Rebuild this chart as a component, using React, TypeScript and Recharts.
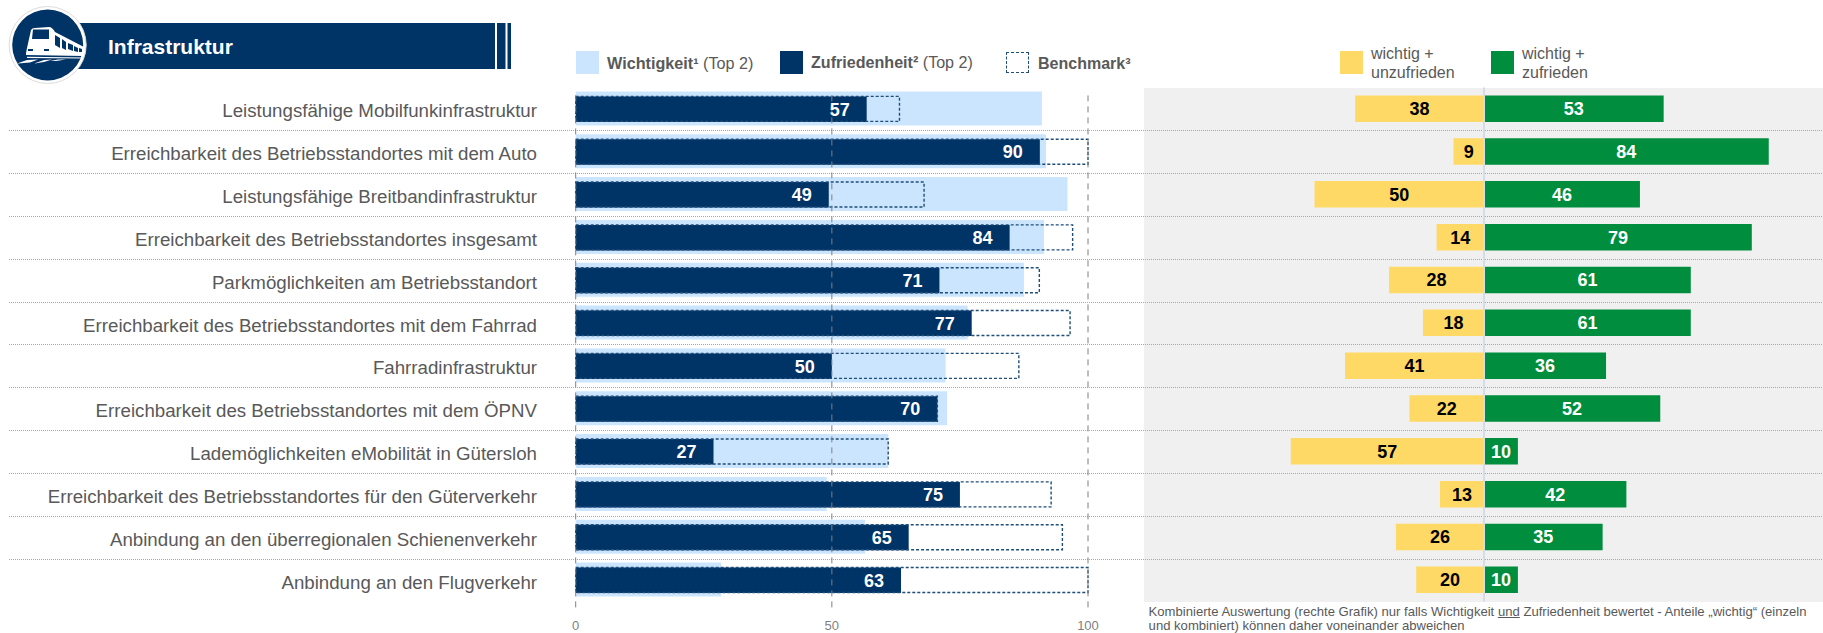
import { Bar, BarChart, LabelList, ReferenceLine, XAxis, YAxis } from "recharts";

const categories = [
  "Leistungsfähige Mobilfunkinfrastruktur",
  "Erreichbarkeit des Betriebsstandortes mit dem Auto",
  "Leistungsfähige Breitbandinfrastruktur",
  "Erreichbarkeit des Betriebsstandortes insgesamt",
  "Parkmöglichkeiten am Betriebsstandort",
  "Erreichbarkeit des Betriebsstandortes mit dem Fahrrad",
  "Fahrradinfrastruktur",
  "Erreichbarkeit des Betriebsstandortes mit dem ÖPNV",
  "Lademöglichkeiten eMobilität in Gütersloh",
  "Erreichbarkeit des Betriebsstandortes für den Güterverkehr",
  "Anbindung an den überregionalen Schienenverkehr",
  "Anbindung an den Flugverkehr",
];
const wichtigkeit = [91, 91.8, 96, 91.4, 87.5, 76.5, 72.2, 72.5, 61, 49, 56.5, 28.4];
// bar lengths as measured; the printed labels are whole numbers
const zufriedenheit = [56.8, 90.6, 49.4, 84.7, 71, 77.3, 50, 70.6, 26.9, 75, 65, 63.5];
const zufriedenheitLabels = [57, 90, 49, 84, 71, 77, 50, 70, 27, 75, 65, 63];
const benchmark = [63.2, 100, 68, 97, 90.5, 96.5, 86.5, 70.6, 61, 92.8, 95, 100];
const unzufrieden = [38, 9, 50, 14, 28, 18, 41, 22, 57, 13, 26, 20];
const zufrieden = [53, 84, 46, 79, 61, 61, 36, 52, 10, 42, 35, 10];
const axisTicks = [0, 50, 100];

const leftData = categories.map((name, i) => ({
  name,
  wichtigkeit: wichtigkeit[i],
  zufriedenheit: zufriedenheit[i],
  label: zufriedenheitLabels[i],
  benchmark: benchmark[i],
}));
const rightData = categories.map((name, i) => ({
  name,
  unzufrieden: -unzufrieden[i],
  zufrieden: zufrieden[i],
}));

const NAVY = "#003366";
const LIGHT = "#cce5ff";
const YELLOW = "#ffd966";
const GREEN = "#008e3e";
const TEXT = "#595959";
const FONT = "'Liberation Sans', Arial, sans-serif";
const PLOT_TOP = 87.4;
const ROW = 42.84;

function CategoryTick({ y, payload }: any) {
  return (
    <text x={537} y={y + 2} dy="0.35em" textAnchor="end" fontSize={18.7} fontFamily={FONT} fill={TEXT}>
      {payload.value}
    </text>
  );
}

// the dashed value lines sit a few px lower than the rows
function GridShape({ x1, x2, y1, y2 }: any) {
  return (
    <line
      x1={x1}
      x2={x2}
      y1={y1 + 6}
      y2={y2 + 5.5}
      stroke="#7f7f7f"
      strokeWidth={1}
      strokeDasharray="6 5"
    />
  );
}

function Swatch({ x, y = 51, w = 23, h = 23, color }: { x: number; y?: number; w?: number; h?: number; color: string }) {
  return <div style={{ position: "absolute", left: x, top: y, width: w, height: h, background: color }} />;
}

function Label({ x, y, size = 16, children }: { x: number; y: number; size?: number; children: React.ReactNode }) {
  return (
    <div style={{ position: "absolute", left: x, top: y, fontSize: size, lineHeight: "19px", color: TEXT, whiteSpace: "nowrap" }}>
      {children}
    </div>
  );
}

function Header() {
  return (
    <svg width={520} height={90} style={{ position: "absolute", left: 0, top: 0 }}>
      <rect x={60} y={23} width={451} height={46} fill={NAVY} />
      <rect x={495} y={23} width={2} height={46} fill="#fff" />
      <rect x={505.5} y={23} width={2} height={46} fill="#fff" />
      <circle cx={47.7} cy={45} r={38.5} fill="#fff" stroke="#dcdcdc" strokeWidth={1} />
      <circle cx={47.7} cy={45} r={35.5} fill={NAVY} />
      <path d="M26 53 L27 48 L31 30 Q32 28 35 28 L49 27 Q52 27 55 32 L83 46.5 L83 56 L26 55 Z" fill="#fff" />
      <path d="M33 29.5 L49 29.5 L49 39 L32 39 Z" fill={NAVY} />
      <path d="M55 35 L60 38 L60 48 L55 45 Z M62 39 L66 42 L66 50 L62 48 Z M68 43 L73 45 L73 51 L68 49 Z M74 46 L78 48 L78 52 L74 51 Z M79 48 L82 49 L82 52 L79 52 Z" fill={NAVY} />
      <rect x={28} y={49} width={5} height={2} fill={NAVY} />
      <rect x={44} y={49} width={5} height={2} fill={NAVY} />
      <path d="M27 56.8 L83 57.5 L83 58.5 L27 58 Z" fill="#fff" />
      <path d="M17 63.5 L27 60 L38 59.5 L30 62.5 Z M34 63.5 L44 60 L52 59.5 L44 62 Z M50 61 L58 59.5 L66 59.5 L56 61 Z" fill="#fff" />
      <text x={108} y={54} fontSize={21} fontWeight="bold" fontFamily={FONT} fill="#fff">
        Infrastruktur
      </text>
    </svg>
  );
}

export default function App() {
  return (
    <div style={{ position: "absolute", left: 0, top: 0, width: 1823, height: 633, overflow: "hidden", background: "#fff", fontFamily: FONT }}>
      <div style={{ position: "absolute", left: 1144, top: 88, width: 679, height: 514, background: "#f0f0f0" }} />
      <svg width={1823} height={633} style={{ position: "absolute", left: 0, top: 0 }}>
        {categories.slice(1).map((name, i) => (
          <line
            key={name}
            x1={9}
            x2={1823}
            y1={Math.round(PLOT_TOP + ROW * (i + 1)) + 0.5}
            y2={Math.round(PLOT_TOP + ROW * (i + 1)) + 0.5}
            stroke="#a8a8a8"
            strokeDasharray="1 1"
          />
        ))}
      </svg>

      <Header />

      <Swatch x={576} color={LIGHT} />
      <Label x={607} y={54} size={16.2}>
        <b>Wichtigkeit¹</b> (Top 2)
      </Label>
      <Swatch x={780} color={NAVY} />
      <Label x={811} y={53} size={16.1}>
        <b>Zufriedenheit²</b> (Top 2)
      </Label>
      <div style={{ position: "absolute", left: 1006, top: 52, width: 21, height: 19, border: "1.5px dashed #1f4e79" }} />
      <Label x={1038} y={54}>
        <b>Benchmark³</b>
      </Label>
      <Swatch x={1340} color={YELLOW} />
      <Label x={1371} y={44}>
        wichtig +
        <br />
        unzufrieden
      </Label>
      <Swatch x={1491} color={GREEN} />
      <Label x={1522} y={44}>
        wichtig +
        <br />
        zufrieden
      </Label>

      <div style={{ position: "absolute", left: 0, top: 0 }}>
        <BarChart
          width={1100}
          height={633}
          layout="vertical"
          data={leftData}
          margin={{ top: PLOT_TOP, right: 12, bottom: 0, left: 0 }}
        >
          <XAxis
            type="number"
            domain={[0, 100]}
            ticks={axisTicks}
            height={31.6}
            axisLine={false}
            tickLine={false}
            tickMargin={13}
            tick={{ fontSize: 13, fontFamily: FONT, fill: "#7f7f7f" }}
          />
          <YAxis
            yAxisId="light"
            type="category"
            dataKey="name"
            width={575.7}
            interval={0}
            axisLine={false}
            tickLine={false}
            tick={CategoryTick}
          />
          <YAxis yAxisId="dark" type="category" dataKey="name" hide />
          <YAxis yAxisId="dash" type="category" dataKey="name" hide />
          <Bar yAxisId="light" dataKey="wichtigkeit" barSize={34} fill={LIGHT} isAnimationActive={false} />
          <Bar yAxisId="dark" dataKey="zufriedenheit" barSize={25.5} fill={NAVY} isAnimationActive={false}>
            <LabelList
              dataKey="label"
              position="insideRight"
              offset={17}
              fill="#fff"
              fontSize={18}
              fontWeight="bold"
              fontFamily={FONT}
            />
          </Bar>
          <Bar
            yAxisId="dash"
            dataKey="benchmark"
            barSize={25}
            fill="none"
            stroke="#1f4e79"
            strokeWidth={1.4}
            strokeDasharray="3 2"
            isAnimationActive={false}
          />
          {axisTicks.map((t) => (
            <ReferenceLine key={t} yAxisId="light" x={t} shape={GridShape} />
          ))}
        </BarChart>
      </div>

      <div style={{ position: "absolute", left: 1145, top: 0 }}>
        <BarChart
          width={678}
          height={633}
          layout="vertical"
          data={rightData}
          stackOffset="sign"
          margin={{ top: PLOT_TOP, right: 0, bottom: 31.6, left: 0 }}
        >
          <XAxis type="number" domain={[-100, 100]} hide />
          <YAxis type="category" dataKey="name" hide />
          <Bar dataKey="unzufrieden" stackId="a" barSize={26.5} fill={YELLOW} isAnimationActive={false}>
            <LabelList
              dataKey="unzufrieden"
              position="center"
              formatter={(v: number) => Math.abs(v)}
              fill="#000"
              fontSize={18}
              fontWeight="bold"
              fontFamily={FONT}
            />
          </Bar>
          <Bar dataKey="zufrieden" stackId="a" barSize={26.5} fill={GREEN} isAnimationActive={false}>
            <LabelList
              dataKey="zufrieden"
              position="center"
              fill="#fff"
              fontSize={18}
              fontWeight="bold"
              fontFamily={FONT}
            />
          </Bar>
          <ReferenceLine x={0} stroke="#d5dce4" strokeWidth={2} />
        </BarChart>
      </div>

      <div style={{ position: "absolute", left: 1148.6, top: 604.5, width: 674, fontSize: 13.1, lineHeight: "14.3px", color: TEXT, whiteSpace: "nowrap" }}>
        Kombinierte Auswertung (rechte Grafik) nur falls Wichtigkeit <u>und</u> Zufriedenheit bewertet - Anteile „wichtig“ (einzeln
        <br />
        und kombiniert) können daher voneinander abweichen
      </div>
    </div>
  );
}
